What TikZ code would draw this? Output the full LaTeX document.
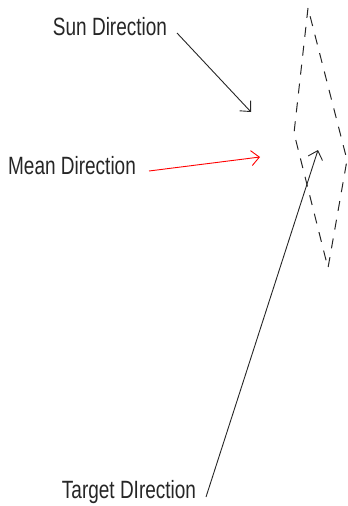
\documentclass[tikz,border=0pt]{standalone}
\usepackage{fontspec}
\setmainfont{Liberation Sans}[FakeStretch=0.76]
\usetikzlibrary{arrows.meta}
\tikzset{
  lbl/.style={font=\fontsize{25}{27}\selectfont, text=black!85, inner sep=0pt},
  dirarrow/.style={line width=0.9pt, -{Straight Barb[length=8pt,width=15pt]}},
}

\begin{document}
\begin{tikzpicture}[x=1pt,y=-1pt]
\useasboundingbox (0,0) rectangle (348,506);
\draw[black!85, line width=1pt, dash pattern=on 10pt off 9pt]
  (308,8) -- (294,133) -- (328,268) -- (347,160) -- cycle;
\node[lbl] (sun) at (110,27) {Sun Direction};
\node[lbl] (mean) at (72,166) {Mean Direction};
\node[lbl] (target) at (129,492) {Target DIrection};
\coordinate (sunfrom) at (177,33);
\coordinate (sunto) at (251,112);
\coordinate (meanfrom) at (149,171);
\coordinate (meanto) at (260,157);
\coordinate (targetfrom) at (206,497);
\coordinate (targetto) at (318,150);
\draw[dirarrow, black!85] (sunfrom) -- (sunto);
\draw[dirarrow, red] (meanfrom) -- (meanto);
\draw[dirarrow, black!85] (targetfrom) -- (targetto);
\end{tikzpicture}
\end{document}
